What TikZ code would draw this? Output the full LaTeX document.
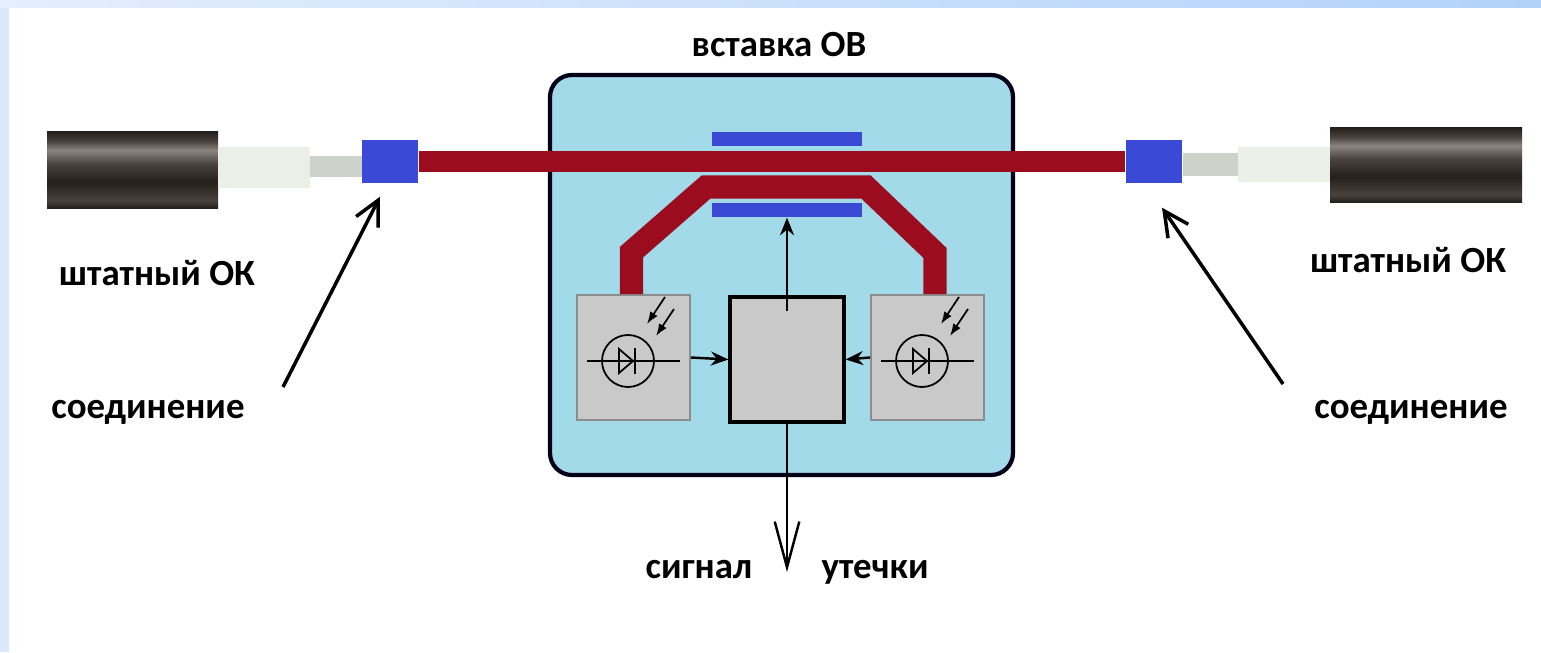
\documentclass[tikz,border=0pt]{standalone}
\usepackage{fontspec}
\setmainfont{Carlito}
\usetikzlibrary{arrows.meta}
\definecolor{fibre}{RGB}{155,12,30}
\definecolor{plugblue}{RGB}{58,74,214}
\definecolor{casing}{RGB}{162,218,234}
\definecolor{panel}{RGB}{201,201,201}
\definecolor{bufpale}{RGB}{236,238,232}
\definecolor{bufgrey}{RGB}{205,211,202}
\definecolor{jkdark}{RGB}{38,32,29}
\definecolor{jkmid}{RGB}{72,65,61}
\definecolor{jklight}{RGB}{140,133,127}
\definecolor{topleft}{RGB}{228,238,252}
\definecolor{topright}{RGB}{178,210,250}
\definecolor{sideblue}{RGB}{219,232,251}
\pgfdeclareverticalshading{jacket}{100bp}{color(0bp)=(jkdark); color(25bp)=(jkdark); color(30bp)=(jkmid); color(42bp)=(jkdark); color(54bp)=(jkmid); color(63bp)=(jklight); color(69bp)=(jkmid); color(75bp)=(jkdark); color(100bp)=(jkdark)}

\begin{document}
\begin{tikzpicture}[x=0.1mm,y=0.1mm]
\tikzstyle{every node}+=[inner sep=0pt]
\tikzstyle{txt}=[font=\bfseries\fontsize{10.5}{12}\selectfont, anchor=base]
\tikzstyle{plug}=[fill=plugblue, minimum width=0.56cm, minimum height=0.43cm]
\tikzstyle{bar}=[fill=plugblue, minimum width=1.5cm, minimum height=0.14cm]
\tikzstyle{casebox}=[draw=black!90!blue, fill=casing, line width=1.2pt, rounded corners=0.22cm, minimum width=4.63cm, minimum height=4cm]
\tikzstyle{detbox}=[draw=black!45, fill=panel, line width=0.5pt, minimum width=1.13cm, minimum height=1.25cm]
\tikzstyle{procbox}=[draw=black, fill=panel, line width=0.9pt, minimum width=1.14cm, minimum height=1.25cm]
\tikzstyle{fibreline}=[draw=fibre, line width=6pt]
\tikzstyle{coupler}=[draw=fibre, line width=6.6pt, miter limit=4]
\tikzstyle{sig}=[black, line width=0.7pt, -{Stealth[length=5pt,width=4pt]}]
\tikzstyle{bigsig}=[black, line width=0.7pt, -{Straight Barb[length=13pt,width=7pt]}]
\tikzstyle{pointer}=[black, line width=1pt, -{Straight Barb[length=7pt,width=7pt]}]
\tikzstyle{sym}=[black, line width=0.5pt]
\useasboundingbox (0,0) rectangle (1541,-652);
\fill [white] (0,0) rectangle (1541,-652);
\fill [left color=topleft, right color=topright] (0,0) rectangle (1541,-8);
\fill [sideblue] (0,-8) rectangle (9,-652);
\fill [shading=jacket] (47,-132) rectangle (218,-208);
\fill [bufpale] (218,-147) rectangle (310,-188);
\fill [bufgrey] (310,-156) rectangle (362,-177);
\fill [bufgrey] (1183,-153) rectangle (1238,-176);
\fill [bufpale] (1238,-147) rectangle (1330,-182);
\fill [shading=jacket] (1330,-128) rectangle (1522,-202);
\node [casebox] (insert) at (781.5,-275) {};
\node [txt] (title) at (779,-57) {вставка ОВ};
\node [bar] (barUp) at (787,-139) {};
\node [bar] (barLow) at (787,-210) {};
\node [detbox] (detL) at (633.5,-357.5) {};
\node [detbox] (detR) at (927.5,-357.5) {};
\node [procbox] (proc) at (787,-359.5) {};
\node [plug] (plugL) at (390,-161.5) {};
\node [plug] (plugR) at (1154,-161.5) {};
\draw [fibreline] (plugL.east) -- (plugR.west);
\draw [coupler] ([xshift=-0.02cm]detL.north) -- ++(0,42) -- (706,-187) -- (866,-187) -- (935,-253) -- ([xshift=0.075cm]detR.north);
\foreach \cx in {628,922} {
  \draw [sym] (\cx,-361) circle (26);
  \draw [sym] (\cx-41,-361) -- (\cx+52,-361);
  \draw [sym] (\cx-9,-349) -- (\cx-9,-373) -- (\cx+5,-361) -- cycle;
  \draw [sym] (\cx+7,-348) -- (\cx+7,-374);
  \draw [sym, -{Latex[length=3.5pt,width=2.5pt]}] (\cx+37,-297) -- (\cx+19,-324);
  \draw [sym, -{Latex[length=3.5pt,width=2.5pt]}] (\cx+46,-309) -- (\cx+28,-336);
}
\draw [sig] ([yshift=-0.16cm]proc.north) -- (proc.north |- barLow.south);
\draw [sig] (detL.east) -- (proc.west);
\draw [sig] (detR.west) -- (proc.east);
\coordinate (sigout) at (787,-572);
\draw [bigsig] (proc.south) -- (sigout);
\coordinate (tailL) at (283,-387);
\coordinate (tailR) at (1283,-384);
\draw [pointer] (tailL) -- ([xshift=-0.1cm,yshift=-0.13cm]plugL.south);
\draw [pointer] (tailR) -- ([xshift=0.08cm,yshift=-0.24cm]plugR.south);
\node [txt] (okL) at (157,-285) {штатный ОК};
\node [txt] (joinL) at (148,-418) {соединение};
\node [txt] (okR) at (1408,-272) {штатный ОК};
\node [txt] (joinR) at (1411,-418) {соединение};
\node [txt] (sigA) at (699,-578) {сигнал};
\node [txt] (sigB) at (875,-578) {утечки};
\end{tikzpicture}
\end{document}
